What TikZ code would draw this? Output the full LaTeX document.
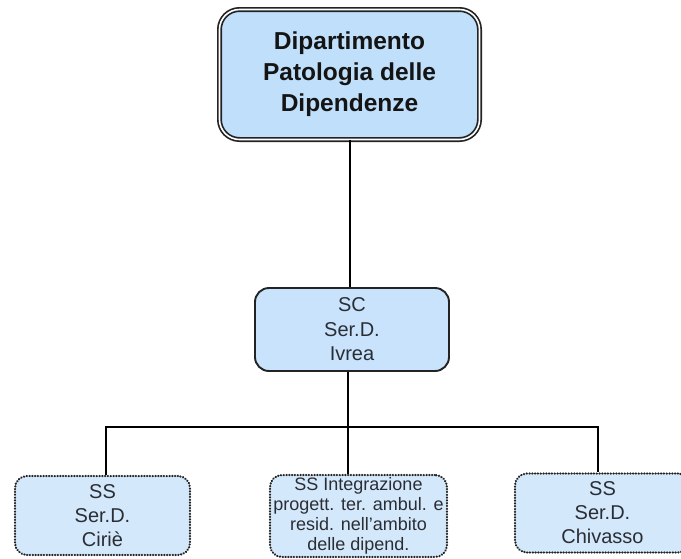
\documentclass[tikz,border=0pt]{standalone}
\usepackage{fontspec}
\setmainfont{Liberation Sans}
\definecolor{topfill}{RGB}{192,223,250}
\definecolor{scfill}{RGB}{200,227,251}
\definecolor{ssfill}{RGB}{212,232,251}
\definecolor{edge}{RGB}{35,35,35}
\definecolor{txt}{RGB}{42,46,52}
\tikzset{
  topbox/.style={draw=edge, line width=1.7pt, double=white, double distance=1.6pt,
    fill=topfill, rounded corners=20pt, minimum width=260pt, minimum height=130pt,
    align=center, inner sep=0pt, font=\fontsize{24.5}{31}\selectfont\bfseries, text=black!92},
  scbox/.style={draw=edge, line width=1.9pt, fill=scfill, rounded corners=14pt,
    minimum width=194pt, minimum height=83pt, align=center, inner sep=0pt,
    font=\fontsize{20}{24.5}\selectfont, text=txt},
  ssbox/.style={draw=edge, line width=2.4pt, line cap=round, dash pattern=on 0.1pt off 2.7pt,
    fill=ssfill, rounded corners=12pt, minimum width=175pt, minimum height=79pt,
    align=center, inner sep=0pt, font=\fontsize{20}{24}\selectfont, text=txt},
  conn/.style={draw=black, line width=2.2pt}
}
\begin{document}
\begin{tikzpicture}[x=1pt,y=-1pt]
\useasboundingbox (0,0) rectangle (681,558);
\clip (0,0) rectangle (681,558);
\node[topbox] (top) at (349.5,74.5) {Dipartimento\\Patologia delle\\Dipendenze};
\node[scbox] (sc) at (352,329.5) {SC\\Ser.D.\\Ivrea};
\node[ssbox] (nL) at (102.5,515.5) {SS\\Ser.D.\\Ciriè};
\node[ssbox, minimum width=177pt, minimum height=82pt, font=\fontsize{18}{20}\selectfont] (nM) at (358.5,516) {SS Integrazione\\progett. ter. ambul. e\\resid. nell'ambito\\delle dipend.};
\node[ssbox] (nR) at (602.5,513) {SS\\Ser.D.\\Chivasso};
\coordinate (ct) at (350,0);
\coordinate (jn) at (348,427);
\coordinate (bl) at (106,427);
\coordinate (br) at (598,427);
\draw[conn] (top.south -| ct) -- (sc.north -| ct);
\draw[conn] (sc.south -| jn) -- (jn);
\draw[conn] (nL.north -| bl) -- (bl) -- (br) -- (nR.north -| br);
\draw[conn] (jn) -- (nM.north -| jn);
\end{tikzpicture}
\end{document}
